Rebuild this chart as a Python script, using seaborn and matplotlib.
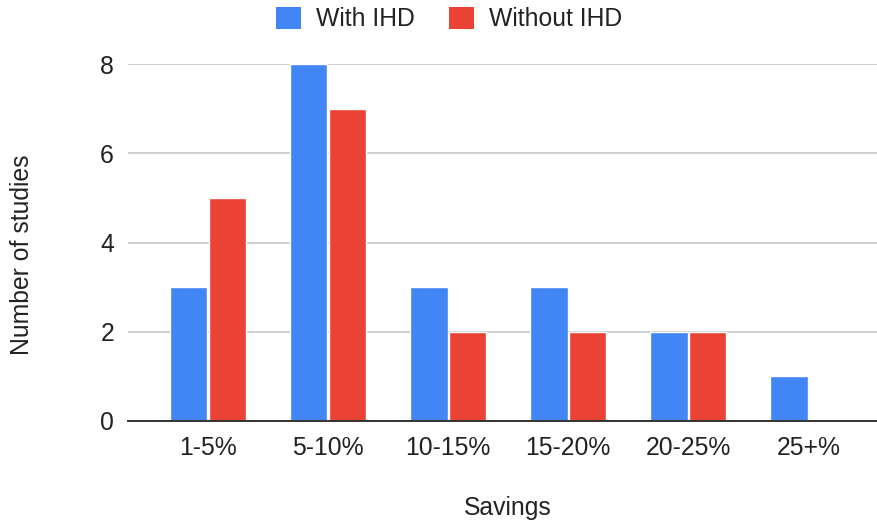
import matplotlib
matplotlib.use("Agg")
import matplotlib.pyplot as plt
from matplotlib.patches import Patch
import pandas as pd
import seaborn as sns

# Number of studies by savings band, with and without in-home displays
categories = ["1-5%", "5-10%", "10-15%", "15-20%", "20-25%", "25+%"]
with_ihd = [3, 8, 3, 3, 2, 1]
without_ihd = [5, 7, 2, 2, 2, 0]
series_names = ["With IHD", "Without IHD"]
y_ticks = [0, 2, 4, 6, 8]

colors = ["#4285F4", "#EA4335"]
text_color = "#222222"

df = pd.DataFrame({
    "Savings": categories * 2,
    "Studies": with_ihd + without_ihd,
    "Group": [series_names[0]] * len(categories) + [series_names[1]] * len(categories),
})

sns.set_theme(style="white")
plt.rcParams["font.family"] = ["Liberation Sans", "DejaVu Sans"]
fs = 17.8

fig = plt.figure(figsize=(8.78, 5.22), dpi=100)
ax = fig.add_axes([128 / 878, (522 - 421) / 522, 750 / 878, 357 / 522])

sns.barplot(data=df, x="Savings", y="Studies", hue="Group", order=categories,
            hue_order=series_names, palette=colors, width=0.645, gap=0.035,
            saturation=1, ax=ax, legend=False, zorder=3)

ax.set_xlim(-0.667, 5.58)
ax.set_ylim(0, 8)
ax.set_yticks(y_ticks)
ax.set_yticklabels([str(t) for t in y_ticks])
ax.grid(axis="y", color="#cccccc", linewidth=1.3, zorder=0)
ax.set_axisbelow(True)
for s in ["top", "right", "left"]:
    ax.spines[s].set_visible(False)
ax.spines["bottom"].set_color("#333333")
ax.spines["bottom"].set_linewidth(1.4)
ax.spines["bottom"].set_zorder(4)
for p in ax.patches:
    p.set_clip_on(False)

ax.tick_params(axis="both", length=0, labelsize=fs, colors=text_color)
ax.tick_params(axis="y", pad=10)
ax.tick_params(axis="x", pad=11)

ax.set_xlabel("Savings", fontsize=fs, color=text_color)
ax.set_ylabel("Number of studies", fontsize=fs, color=text_color)
ax.xaxis.set_label_coords((508 - 128) / 750, (421 - 508) / 357)
ax.yaxis.set_label_coords((22 - 128) / 750, (421 - 255) / 357)
ax.xaxis.label.set_va("center")
ax.yaxis.label.set_va("center")

handles = [Patch(facecolor=c, edgecolor="none") for c in colors]
fig.legend(handles, series_names, loc="center", bbox_to_anchor=(449 / 878, 1 - 19 / 522),
           ncol=2, frameon=False, fontsize=fs, handlelength=1.0, handleheight=1.0,
           handletextpad=0.6, columnspacing=1.4, labelcolor=text_color)

fig.savefig("out.png", dpi=100)
